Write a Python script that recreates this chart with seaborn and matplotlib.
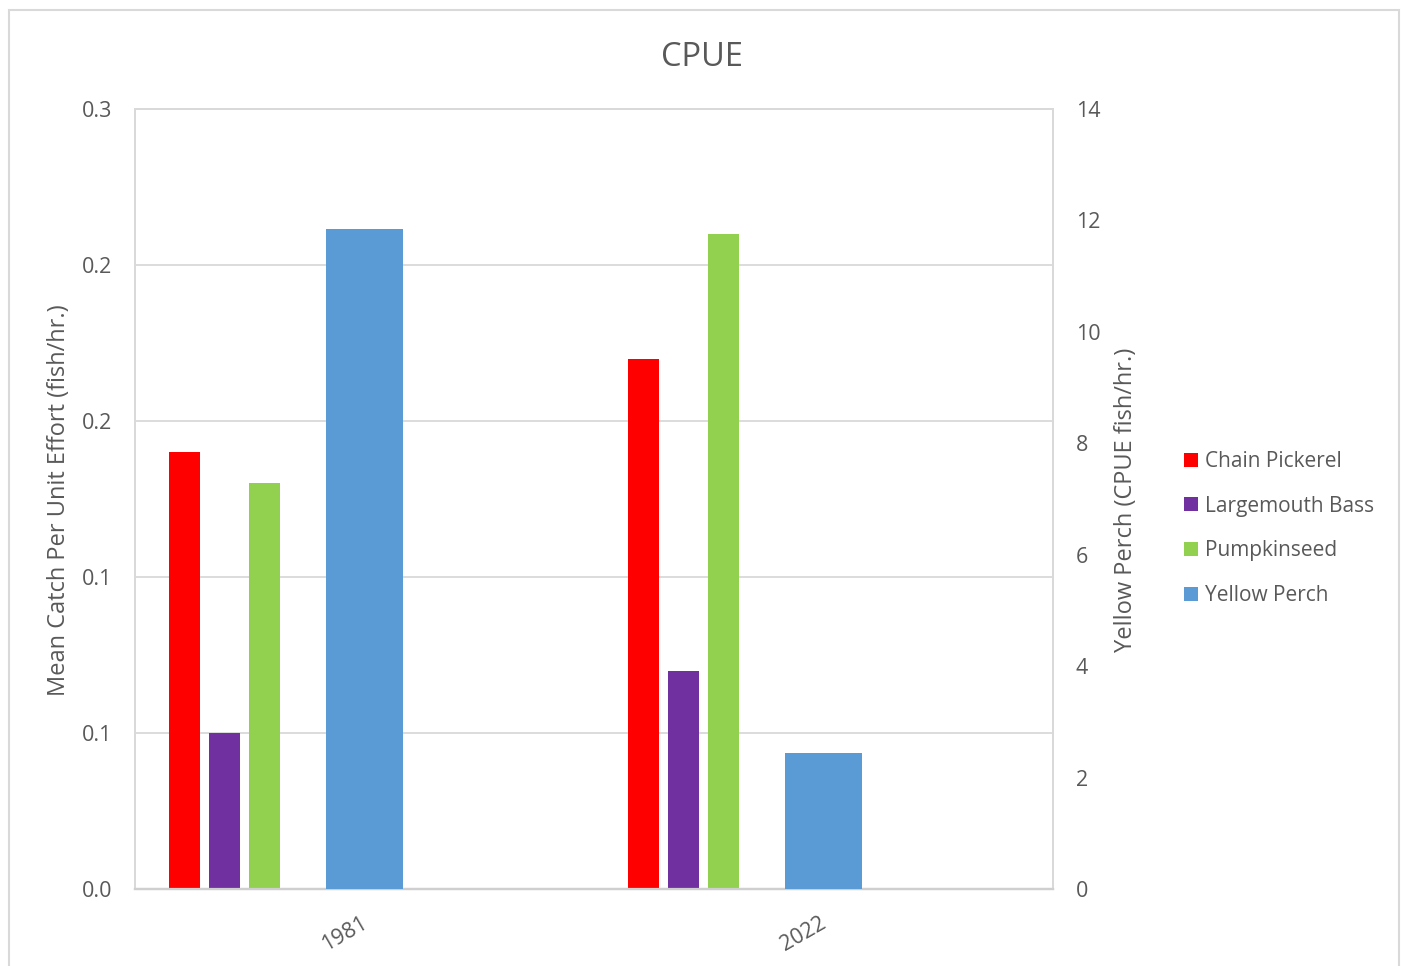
import matplotlib
matplotlib.use("Agg")
import matplotlib.pyplot as plt
import matplotlib.transforms as mtransforms
from matplotlib.patches import Patch, Rectangle
import seaborn as sns

# Survey years and catch rates (fish per hour)
years = ["1981", "2022"]
chain_pickerel = [0.14, 0.17]
largemouth_bass = [0.05, 0.07]
pumpkinseed = [0.13, 0.21]
yellow_perch = [11.85, 2.45]   # plotted on the secondary axis

species = ["Chain Pickerel", "Largemouth Bass", "Pumpkinseed", "Yellow Perch"]
colors = ["#FF0000", "#7030A0", "#92D050", "#5B9BD5"]

left_ticks = [0.0, 0.05, 0.10, 0.15, 0.20, 0.25]
left_tick_labels = ["0.0", "0.1", "0.1", "0.2", "0.2", "0.3"]
right_ticks = [0, 2, 4, 6, 8, 10, 12, 14]

sns.set_theme(style="white")
plt.rcParams["font.family"] = ["Open Sans", "DejaVu Sans"]
text_color = "#595959"
grid_color = "#d9d9d9"

fig = plt.figure(figsize=(14.04, 9.66), dpi=100)
ax = fig.add_axes([135 / 1404, 1 - 889 / 966, 918 / 1404, 780 / 966])
ax2 = ax.twinx()

# Bar layout within each year slot
primary_offsets = [-0.392, -0.305, -0.218]
primary_width = 0.0675
perch_width = 0.168

primary_series = [chain_pickerel, largemouth_bass, pumpkinseed]
for vals, off, col in zip(primary_series, primary_offsets, colors[:3]):
    xs = [i + off for i in range(len(years))]
    sns.barplot(x=xs, y=vals, native_scale=True, width=primary_width,
                color=col, saturation=1, errorbar=None, linewidth=0,
                ax=ax, zorder=3)

sns.barplot(x=list(range(len(years))), y=yellow_perch, native_scale=True,
            width=perch_width, color=colors[3], saturation=1, errorbar=None,
            linewidth=0, ax=ax2, zorder=3)

# Primary axis
ax.set_xlim(-0.5, 1.5)
ax.set_ylim(0, 0.25)
ax.set_yticks(left_ticks)
ax.set_yticklabels(left_tick_labels)
ax.yaxis.grid(True, color=grid_color, linewidth=1.3, zorder=0)
ax.set_axisbelow(True)
ax.set_xticks(range(len(years)))
ax.set_xticklabels(years, rotation=30, ha="right", va="top",
                   rotation_mode="anchor")
ax.tick_params(axis="both", length=0, labelsize=15.5, colors=text_color)
ax.tick_params(axis="y", pad=16.5)
ax.tick_params(axis="x", pad=17)
# nudge the rotated year labels slightly left
shift = mtransforms.ScaledTranslation(-4 / 100, 0, fig.dpi_scale_trans)
for lbl in ax.get_xticklabels():
    lbl.set_transform(lbl.get_transform() + shift)
ax.set_xlabel("")
ax.set_ylabel("")

# Secondary axis
ax2.set_xlim(-0.5, 1.5)
ax2.set_ylim(0, 14)
ax2.set_yticks(right_ticks)
ax2.tick_params(axis="y", length=0, labelsize=15.5, colors=text_color, pad=16.5)
ax2.set_xlabel("")
ax2.set_ylabel("")
ax2.grid(False)

for a in (ax, ax2):
    for side in ("left", "right", "top"):
        a.spines[side].set_color(grid_color)
        a.spines[side].set_linewidth(1.3)
    a.spines["bottom"].set_color("#cfcfcf")
    a.spines["bottom"].set_linewidth(1.6)

# Titles and axis labels
fig.text(0.5, 1 - 57 / 966, "CPUE", ha="center", va="center",
         fontsize=23.5, color=text_color)
fig.text(59 / 1404, 1 - 500 / 966, "Mean Catch Per Unit Effort (fish/hr.)",
         rotation=90, ha="center", va="center", fontsize=17, color=text_color)
fig.text(1126 / 1404, 1 - 500 / 966, "Yellow Perch (CPUE fish/hr.)",
         rotation=90, ha="center", va="center", fontsize=17, color=text_color)

# Legend
handles = [Patch(facecolor=c, edgecolor="none") for c in colors]
leg = fig.legend(handles, species, loc="center left",
                 bbox_to_anchor=(1184 / 1404, 1 - 528.5 / 966),
                 frameon=False, fontsize=15, handlelength=0.65,
                 handleheight=0.65, handletextpad=0.35, labelspacing=1.14,
                 borderpad=0, borderaxespad=0)
for t in leg.get_texts():
    t.set_color(text_color)

# Chart border
fig.patches.append(Rectangle((9 / 1404, -0.05), 1390 / 1404, 1.05 - 10 / 966,
                             transform=fig.transFigure, fill=False,
                             edgecolor=grid_color, linewidth=1.5))

fig.savefig("out.png", dpi=100)
